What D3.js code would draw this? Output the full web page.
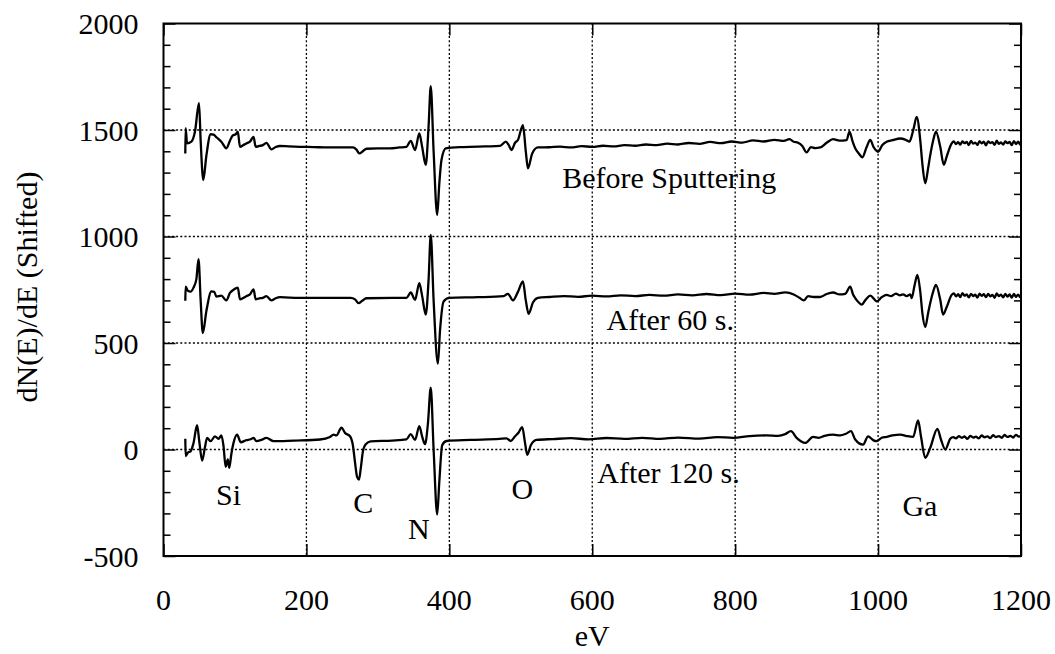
<!DOCTYPE html>
<html>
<head>
<meta charset="utf-8">
<script src="https://cdn.jsdelivr.net/npm/d3@7"></script>
<style>
  html, body { margin: 0; padding: 0; background: #fff; }
  svg { display: block; }
</style>
</head>
<body>
<svg id="chart" width="1055" height="654"></svg>
<script>
// ---------------- data ----------------
const xTicks = [0, 200, 400, 600, 800, 1000, 1200];
const yTicks = [-500, 0, 500, 1000, 1500, 2000];
const yMinorTicks = [-400, -300, -200, -100, 100, 200, 300, 400, 600, 700, 800, 900,
                     1100, 1200, 1300, 1400, 1600, 1700, 1800, 1900];
const xGrid = [200, 400, 600, 800, 1000];
const yGrid = [0, 500, 1000, 1500];

// [eV, dN(E)/dE]
const beforeSputtering = [
  [30.5,1390],[31,1509],[33,1437],[39,1445],[44,1492],[49.7,1626],[52,1450],[55.7,1265],[60,1380],
  [66,1480],[70,1478],[74,1466],[81,1445],[88,1414],[93,1450],[97,1475],[101,1480],[104,1492],
  [107,1421],[112,1430],[116,1437],[121,1445],[126,1468],[129,1421],[134,1425],[139,1429],[144,1440],
  [151,1409],[157,1420],[163,1425],[175,1423],[191,1421],[210,1420],[230,1418],[250,1418],[265,1418],
  [270,1408],[274,1390],[279,1400],[284,1412],[300,1414],[317,1414],[330,1418],[340,1421],[346,1449],
  [352,1406],[358,1484],[362,1420],[367,1336],[371,1520],[374,1706],[378,1400],[383,1101],[386,1250],
  [389,1359],[395,1414],[420,1420],[450,1423],[471,1425],[479,1445],[483,1430],[487,1406],[492,1440],
  [496,1453],[503,1523],[507,1400],[510,1320],[516,1390],[524,1418],[540,1419],[555,1422],[570,1418],
  [585,1424],[600,1421],[615,1426],[630,1423],[645,1429],[660,1426],[675,1432],[690,1429],[705,1436],
  [720,1432],[735,1439],[750,1435],[765,1444],[780,1438],[795,1446],[810,1441],[825,1451],[840,1446],
  [855,1454],[868,1449],[876,1457],[882,1445],[888,1440],[894,1425],[900,1395],[906,1420],[912,1415],
  [919,1418],[928,1440],[937,1457],[946,1450],[956,1453],[960,1492],[964,1450],[968,1414],[973,1390],
  [978,1372],[984,1420],[989,1453],[994,1418],[1000,1398],[1006,1430],[1012,1445],[1020,1452],
  [1031,1460],[1038,1455],[1044,1445],[1046,1460],[1050,1510],[1054,1562],[1059,1453],[1062,1340],
  [1066,1250],[1070,1320],[1073,1382],[1077,1450],[1081,1492],[1087,1421],[1092,1336],[1096,1375],
  [1103,1437],[1106,1446],[1109,1434],[1112,1443],[1115,1431],[1118,1447],[1121,1438],[1124,1444],
  [1127,1429],[1130,1449],[1133,1436],[1136,1441],[1139,1430],[1142,1448],[1145,1437],[1148,1445],
  [1151,1428],[1154,1446],[1157,1439],[1160,1443],[1163,1430],[1166,1450],[1169,1435],[1172,1442],
  [1175,1431],[1178,1447],[1181,1438],[1184,1444],[1187,1429],[1190,1448],[1193,1434],[1196,1445],
  [1199,1432],[1200,1440]
];

const after60s = [
  [30.5,698],[31,765],[34,745],[38,741],[42,760],[46,800],[49,894],[52,700],[55,547],[60,650],[67,742],
  [71,740],[74,718],[81,722],[88,700],[93,735],[98,750],[104,760],[107,705],[112,712],[116,720],
  [121,728],[126,752],[129,705],[134,710],[139,712],[144,720],[151,700],[157,710],[163,715],[190,712],
  [230,712],[262,712],[268,705],[273,687],[278,698],[284,710],[320,712],[340,712],[346,737],[352,703],
  [358,781],[362,720],[367,633],[371,800],[374,1008],[378,700],[384,403],[387,560],[392,695],[400,712],
  [440,715],[476,720],[482,731],[489,700],[496,740],[503,789],[507,700],[511,637],[517,690],[524,712],
  [540,716],[560,720],[580,717],[600,722],[620,719],[640,724],[660,720],[680,726],[700,722],[720,728],
  [740,724],[760,730],[780,725],[800,732],[820,727],[840,735],[855,731],[870,738],[882,728],
  [890,712],[896,700],[902,720],[910,716],[919,716],[928,730],[937,737],[946,728],[954,731],[961,765],
  [965,728],[968,711],[973,690],[977,680],[983,705],[989,722],[994,708],[998,695],[1005,715],[1012,726],
  [1018,720],[1025,732],[1030,724],[1035,728],[1040,720],[1045,728],[1047,711],[1051,770],[1055,820],
  [1059,742],[1062,640],[1066,575],[1070,640],[1073,688],[1077,740],[1081,773],[1087,703],[1091,633],
  [1096,669],[1103,726],[1106,733],[1109,719],[1112,729],[1115,716],[1118,734],[1121,722],[1124,728],
  [1127,714],[1130,731],[1133,720],[1136,727],[1139,713],[1142,732],[1145,721],[1148,729],[1151,715],
  [1154,730],[1157,719],[1160,726],[1163,712],[1166,733],[1169,720],[1172,727],[1175,714],[1178,731],
  [1181,718],[1184,728],[1187,713],[1190,730],[1193,717],[1196,727],[1199,715],[1200,722]
];

const after120s = [
  [30.5,50],[31,-31],[34,-15],[38,-8],[42,30],[47,114],[50,40],[54,-52],[58,10],[61,55],[66,39],[72,62],
  [77,50],[81,66],[84,16],[87,-81],[90,-47],[92,-86],[95,-20],[98,31],[103,70],[108,34],[116,44],
  [122,48],[126,55],[130,39],[137,45],[144,55],[154,39],[182,42],[219,47],[233,59],[238,70],[242,66],
  [249,102],[254,78],[261,62],[265,20],[268,-60],[271,-130],[273.6,-141],[276,-90],[279,-10],[283,25],
  [290,38],[320,42],[340,48],[346,72],[352,45],[358,110],[362,60],[366,25],[370,120],[374,290],[378,0],
  [383,-305],[386,-150],[390,20],[396,40],[430,45],[470,50],[480,52],[486,40],[492,62],[497,80],
  [502,105],[506,30],[509,-25],[514,20],[522,45],[545,49],[570,53],[595,48],[620,54],[645,50],
  [670,55],[695,50],[720,56],[750,51],[775,58],[797,55],[820,63],[844,66],[860,64],
  [870,72],[878,86],[886,55],[898,31],[909,59],[917,55],[925,64],[937,70],[947,66],[955,74],[962,86],
  [968,47],[979,23],[986,62],[993,44],[998,39],[1005,55],[1012,59],[1020,66],[1031,70],[1040,63],
  [1049,59],[1056,137],[1060,62],[1066,-39],[1073,8],[1083,97],[1088,47],[1094,0],[1101,50],[1105,58],
  [1109,52],[1113,63],[1117,55],[1121,61],[1125,50],[1129,64],[1133,56],[1137,60],[1141,52],[1145,66],
  [1149,57],[1153,62],[1157,53],[1161,67],[1165,58],[1169,63],[1173,55],[1177,68],[1181,59],[1185,64],
  [1189,56],[1193,69],[1197,60],[1200,65]
];

const seriesNames = ["Before Sputtering", "After 60 s.", "After 120 s."];
const elementNames = ["Si", "C", "N", "O", "Ga"];
// annotation anchors in data coordinates [eV, value]
const seriesLabelAt = [[558, 1228], [620, 561], [607, -157]];
const elementLabelAt = [[73.5, -261], [265.6, -297], [342, -420], [487, -234], [1034, -312]];

const xLabel = "eV";
const yLabel = "dN(E)/dE (Shifted)";

// ---------------- drawing ----------------
const FONT = '"Liberation Serif", "Times New Roman", serif';
const svg = d3.select("#chart");
const x = d3.scaleLinear().domain([0, 1200]).range([163.5, 1021]);
const y = d3.scaleLinear().domain([-500, 2000]).range([556, 23.5]);
const [x0, x1] = x.range();
const [yb, yt] = y.range();

// grid
const grid = svg.append("g").attr("stroke", "#000").attr("stroke-width", 1.3)
  .attr("stroke-dasharray", "2,2.2");
grid.selectAll("line.v").data(xGrid).join("line")
  .attr("x1", d => x(d)).attr("x2", d => x(d)).attr("y1", yt).attr("y2", yb);
grid.selectAll("line.h").data(yGrid).join("line")
  .attr("x1", x0).attr("x2", x1).attr("y1", d => y(d)).attr("y2", d => y(d));

// tick marks (inward) on all four sides
function styleAxis(g) {
  g.select(".domain").remove();
  g.selectAll(".tick line").attr("stroke", "#000").attr("stroke-width", 1.5);
  g.selectAll(".tick text").remove();
}
svg.append("g").attr("transform", `translate(${x0},0)`)
  .call(d3.axisLeft(y).tickValues(yTicks).tickSize(-12)).call(styleAxis);
svg.append("g").attr("transform", `translate(${x0},0)`)
  .call(d3.axisLeft(y).tickValues(yMinorTicks).tickSize(-7)).call(styleAxis);
svg.append("g").attr("transform", `translate(${x1},0)`)
  .call(d3.axisRight(y).tickValues(yTicks).tickSize(-12)).call(styleAxis);
svg.append("g").attr("transform", `translate(${x1},0)`)
  .call(d3.axisRight(y).tickValues(yMinorTicks).tickSize(-7)).call(styleAxis);
svg.append("g").attr("transform", `translate(0,${yb})`)
  .call(d3.axisBottom(x).tickValues(xTicks).tickSize(-12)).call(styleAxis);
svg.append("g").attr("transform", `translate(0,${yt})`)
  .call(d3.axisTop(x).tickValues(xTicks).tickSize(-12)).call(styleAxis);

// frame
svg.append("rect").attr("x", x0).attr("y", yt).attr("width", x1 - x0).attr("height", yb - yt)
  .attr("fill", "none").attr("stroke", "#000").attr("stroke-width", 2);

// text helper
const fs = 30;
function txt(sel) {
  return sel.style("font-family", FONT).style("font-size", fs + "px").attr("fill", "#000");
}

// tick labels
svg.append("g").selectAll("text").data(yTicks).join("text")
  .attr("x", x0 - 25).attr("y", d => y(d)).attr("dy", "0.36em")
  .attr("text-anchor", "end").call(txt).text(d => d);
svg.append("g").selectAll("text").data(xTicks).join("text")
  .attr("x", d => x(d)).attr("y", 610)
  .attr("text-anchor", "middle").call(txt).text(d => d);

// axis titles
svg.append("text").attr("x", (x0 + x1) / 2).attr("y", 646).attr("text-anchor", "middle")
  .call(txt).text(xLabel);
svg.append("text")
  .attr("transform", `translate(37,287) rotate(-90)`)
  .attr("text-anchor", "middle").call(txt).text(yLabel);

// spectra
const line = d3.line().x(d => x(d[0])).y(d => y(d[1])).curve(d3.curveMonotoneX);
[beforeSputtering, after60s, after120s].forEach(s => {
  svg.append("path").datum(s).attr("d", line)
    .attr("fill", "none").attr("stroke", "#000").attr("stroke-width", 2.3)
    .attr("stroke-linejoin", "round");
});

// annotations
svg.append("g").selectAll("text").data(seriesNames).join("text")
  .attr("x", (d, i) => x(seriesLabelAt[i][0])).attr("y", (d, i) => y(seriesLabelAt[i][1]))
  .call(txt).text(d => d);
svg.append("g").selectAll("text").data(elementNames).join("text")
  .attr("x", (d, i) => x(elementLabelAt[i][0])).attr("y", (d, i) => y(elementLabelAt[i][1]))
  .call(txt).text(d => d);
</script>
</body>
</html>
